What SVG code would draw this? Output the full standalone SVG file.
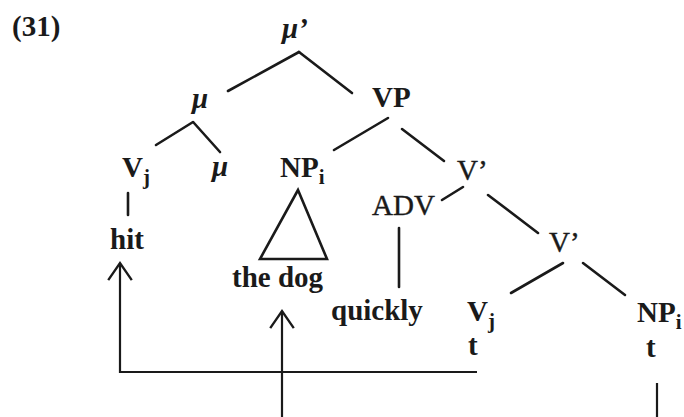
<svg xmlns="http://www.w3.org/2000/svg" width="684" height="417" viewBox="0 0 684 417">
  <style>
    text { font-family: "Liberation Serif", "Times New Roman", serif; font-size: 29px; fill: #1a1a1a; }
    .b { font-weight: bold; }
    .r { font-weight: normal; stroke: #1a1a1a; stroke-width: 0.4; }
    .mu { font-weight: bold; font-style: italic; }
    .sub { font-size: 21px; font-weight: bold; }
    .edge { stroke: #1a1a1a; stroke-width: 2.6; stroke-linecap: round; fill: none; }
    .move { stroke: #1a1a1a; stroke-width: 2.2; fill: none; }
  </style>
  <defs>
    <marker id="chev" markerUnits="userSpaceOnUse" markerWidth="30" markerHeight="30" viewBox="-18 -14 20 28" refX="0" refY="0" orient="auto">
      <path d="M-16,-11 L0,0 L-16,11" fill="none" stroke="#1a1a1a" stroke-width="2.2"/>
    </marker>
  </defs>

  <rect width="684" height="417" fill="#ffffff"/>

  <text id="label" class="b" x="12" y="36">(31)</text>

  <g id="connectors">
    <line class="edge" x1="299" y1="52" x2="228" y2="91"/>
    <line class="edge" x1="299" y1="52" x2="352" y2="93"/>
    <line class="edge" x1="193" y1="122" x2="156" y2="145"/>
    <line class="edge" x1="194" y1="123" x2="220" y2="152"/>
    <line class="edge" x1="388" y1="118" x2="334" y2="150"/>
    <line class="edge" x1="402" y1="129" x2="444" y2="161"/>
    <line class="edge" x1="463" y1="187" x2="442" y2="200"/>
    <line class="edge" x1="488" y1="195" x2="538" y2="233"/>
    <line class="edge" x1="563" y1="263" x2="511" y2="293"/>
    <line class="edge" x1="583" y1="263" x2="625" y2="295"/>
    <line class="edge" x1="128" y1="193" x2="128" y2="215"/>
    <line class="edge" x1="399" y1="228" x2="399" y2="287"/>
    <polygon class="edge" points="298,190 260,259 327,259"/>
    <path class="move" d="M477,372 L120,372 L120,263" marker-end="url(#chev)"/>
    <path class="move" d="M282,417 L282,311" marker-end="url(#chev)"/>
    <path class="move" d="M657,383 L657,417"/>
  </g>

  <g id="mu-bar"><text class="mu" x="282" y="38">μ’</text></g>
  <g id="mu"><text class="mu" x="192" y="108">μ</text></g>
  <g id="vp"><text class="b" x="372" y="107">VP</text></g>
  <g id="v-head"><text class="b" x="122" y="177">V<tspan class="sub" dy="7">j</tspan></text></g>
  <g id="mu-head"><text class="mu" x="212" y="176">μ</text></g>
  <g id="np-moved"><text class="b" x="280" y="177">NP<tspan class="sub" dy="7">i</tspan></text></g>
  <g id="v-bar-1"><text class="r" x="457" y="180">V’</text></g>
  <g id="adv"><text class="r" x="372" y="215">ADV</text></g>
  <g id="v-bar-2"><text class="r" x="549" y="252">V’</text></g>
  <g id="hit"><text class="b" x="110" y="249">hit</text></g>
  <g id="the-dog"><text class="b" x="232" y="287">the dog</text></g>
  <g id="quickly"><text class="b" x="331" y="320">quickly</text></g>
  <g id="v-trace"><text class="b" x="467" y="321">V<tspan class="sub" dy="7">j</tspan></text><text class="b" x="468" y="355">t</text></g>
  <g id="np-trace"><text class="b" x="637" y="322">NP<tspan class="sub" dy="7">i</tspan></text><text class="b" x="646" y="357">t</text></g>
</svg>
